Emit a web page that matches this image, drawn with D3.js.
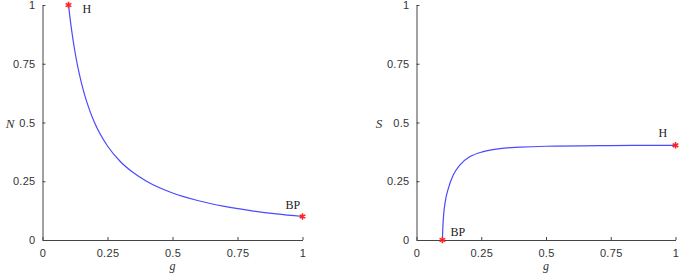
<!DOCTYPE html>
<html><head><meta charset="utf-8">
<script src="https://cdn.jsdelivr.net/npm/d3@7"></script>
<style>body{margin:0;background:#fff}</style>
</head><body>
<svg id="c" width="680" height="274"></svg>
<script>
const tickValues = [0, 0.25, 0.5, 0.75, 1];
const tickLabels = ["0", "0.25", "0.5", "0.75", "1"];

const gN = [0.1, 0.11, 0.125, 0.14, 0.16, 0.18, 0.2, 0.25, 0.3, 0.35, 0.4, 0.5, 0.6, 0.7, 0.8, 0.9, 1.0];
const nVals = [1.0, 0.909, 0.8, 0.714, 0.625, 0.556, 0.5, 0.4, 0.333, 0.286, 0.25, 0.2, 0.167, 0.143, 0.125, 0.111, 0.1];

const gS = [0.1, 0.102, 0.105, 0.11, 0.123, 0.142, 0.168, 0.207, 0.258, 0.322, 0.4, 0.5, 0.75, 1.0];
const sVals = [0.0, 0.06, 0.11, 0.156, 0.22, 0.277, 0.32, 0.355, 0.376, 0.389, 0.395, 0.399, 0.402, 0.403];

const panels = [
  {x0: 42.5, x1: 302.5, yLab: "N", gs: gN, vs: nVals,
   pts: [{g: 0.1, v: 1.0, t: "H", dx: 14, dy: 4}, {g: 1.0, v: 0.1, t: "BP", dx: -17, dy: -12}], ylx: 10},
  {x0: 416.5, x1: 675.5, yLab: "S", gs: gS, vs: sVals,
   pts: [{g: 0.1, v: 0.0, t: "BP", dx: 8, dy: -8}, {g: 1.0, v: 0.403, t: "H", dx: -17, dy: -12}], ylx: 379}
];
const yTop = 5, yBot = 240;
const svg = d3.select("#c");

panels.forEach(p => {
  const x = d3.scaleLinear().domain([0, 1]).range([p.x0, p.x1]);
  const y = d3.scaleLinear().domain([0, 1]).range([yBot, yTop]);
  const gx = svg.append("g").attr("transform", `translate(0,${yBot})`)
    .call(d3.axisBottom(x).tickValues(tickValues).tickFormat((d, i) => tickLabels[i]).tickSizeInner(-3).tickSizeOuter(0).tickPadding(9));
  const gy = svg.append("g").attr("transform", `translate(${p.x0},0)`)
    .call(d3.axisLeft(y).tickValues(tickValues).tickFormat((d, i) => tickLabels[i]).tickSizeInner(-3).tickSizeOuter(0).tickPadding(7));
  [gx, gy].forEach(a => {
    a.select(".domain").attr("stroke", "#444").attr("stroke-width", 1);
    a.selectAll(".tick line").attr("stroke", "#444");
    a.selectAll(".tick text").attr("fill", "#333").attr("font-family", "'Liberation Sans', Arial, sans-serif").attr("font-size", 11).attr("letter-spacing", 0.3);
  });
  svg.append("text").attr("x", (p.x0 + p.x1) / 2).attr("y", 270).attr("text-anchor", "middle")
    .attr("font-family", "'Liberation Serif', serif").attr("font-style", "italic").attr("font-size", 12).attr("fill", "#333").text("g");
  svg.append("text").attr("x", p.ylx).attr("y", 128).attr("text-anchor", "middle")
    .attr("font-family", "'Liberation Serif', serif").attr("font-style", "italic").attr("font-size", 13).attr("fill", "#333").text(p.yLab);
  const data = p.gs.map((g, i) => [g, p.vs[i]]);
  svg.append("path").datum(data)
    .attr("d", d3.line().x(d => x(d[0])).y(d => y(d[1])).curve(d3.curveMonotoneX))
    .attr("fill", "none").attr("stroke", "#4a4aff").attr("stroke-width", 1.2);
  p.pts.forEach(pt => {
    const cx = x(pt.g), cy = y(pt.v);
    svg.append("path").attr("d", d3.symbol(d3.symbolAsterisk, 30)())
      .attr("transform", `translate(${cx},${cy})`).attr("stroke", "#ff2020").attr("stroke-width", 1.6).attr("fill", "none");
    svg.append("text").attr("x", cx + pt.dx).attr("y", cy + pt.dy + 4).attr("font-family", "'Liberation Serif', serif")
      .attr("font-size", 12).attr("fill", "#222").text(pt.t);
  });
});
</script>
</body></html>
